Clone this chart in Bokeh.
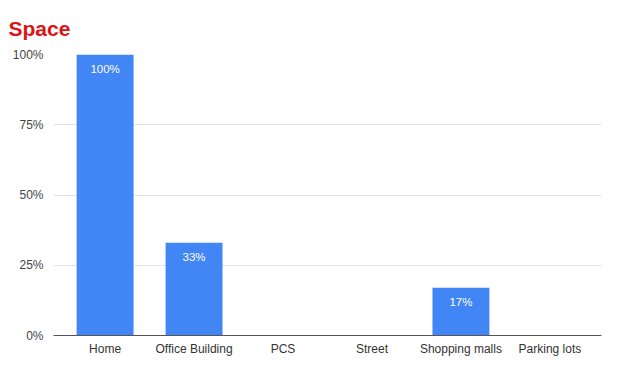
from bokeh.plotting import figure
from bokeh.models import ColumnDataSource, FactorRange, Range1d, NumeralTickFormatter, FixedTicker
from bokeh.core.properties import value
from bokeh.embed import file_html
from bokeh.resources import INLINE

categories = ["Home", "Office Building", "PCS", "Street", "Shopping malls", "Parking lots"]
values = [1.00, 0.33, 0.0, 0.0, 0.17, 0.0]
y_ticks = [0, 0.25, 0.5, 0.75, 1.0]

labels = [f"{round(v*100)}%" if v > 0 else "" for v in values]
src = ColumnDataSource(dict(cat=categories, val=values, lab=labels))

p = figure(
    x_range=FactorRange(factors=categories, range_padding=0.08, range_padding_units="absolute"),
    y_range=Range1d(0, 1.0),
    width=602, height=358,
    output_backend="svg", toolbar_location=None,
    min_border_left=53, min_border_right=1, min_border_top=54, min_border_bottom=18,
)
p.title.text = "Space"
p.title.text_color = "#dd1414"
p.title.text_font = "Liberation Sans"
p.title.text_font_size = "21px"
p.title.text_font_style = "bold"
p.title.align = "left"
p.title.vertical_align = "top"
p.title.offset = -45
p.title.standoff = 26

p.vbar(x="cat", top="val", width=0.64, source=src, color="#4285f4", line_color=None)
p.text(x="cat", y="val", text="lab", source=src, text_color="white",
       text_font_size="11.5px", text_align="center", text_baseline="top",
       y_offset=8, text_font=value("Liberation Sans"))

p.outline_line_color = None
p.background_fill_color = "white"
p.border_fill_color = "white"

p.yaxis.ticker = FixedTicker(ticks=y_ticks)
p.yaxis.formatter = NumeralTickFormatter(format="0%")
p.yaxis.axis_line_color = None
p.yaxis.major_tick_line_color = None
p.yaxis.major_tick_out = 0
p.yaxis.minor_tick_out = 0
p.yaxis.minor_tick_line_color = None
p.yaxis.major_label_text_font_size = "12px"
p.yaxis.major_label_text_color = "#444444"
p.yaxis.major_label_text_font = "Liberation Sans"
p.yaxis.major_label_standoff = 10

p.xaxis.axis_line_color = "#555555"
p.xaxis.axis_line_width = 1.2
p.xaxis.major_tick_line_color = None
p.xaxis.major_tick_out = 0
p.xaxis.minor_tick_out = 0
p.xaxis.minor_tick_line_color = None
p.xaxis.major_label_text_font_size = "12px"
p.xaxis.major_label_text_color = "#333333"
p.xaxis.major_label_text_font = "Liberation Sans"
p.xaxis.major_label_standoff = 6

p.xgrid.grid_line_color = None
p.ygrid.grid_line_color = "#e3e3e3"
p.ygrid.ticker = FixedTicker(ticks=y_ticks)

open("out.html", "w").write(file_html(p, INLINE))
